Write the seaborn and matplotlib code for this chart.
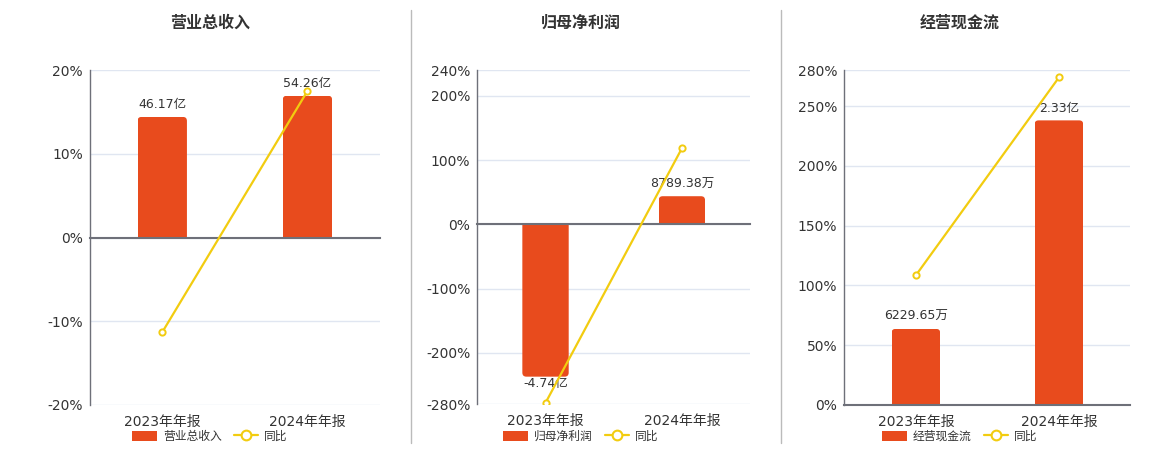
import numpy as np
import pandas as pd
import matplotlib
matplotlib.use('Agg')
import matplotlib.pyplot as plt
from matplotlib.patches import FancyBboxPatch, Patch
from matplotlib.lines import Line2D
import seaborn as sns

# ---------------- data ----------------
categories = ['2023年年报', '2024年年报']

revenue = [46.17, 54.26]            # 亿
revenue_yoy = [-11.3, 17.52]        # %
revenue_labels = ['46.17亿', '54.26亿']

profit = [-4.74, 0.878938]          # 亿
profit_yoy = [-277.8, 118.5]
profit_labels = ['-4.74亿', '8789.38万']

cashflow = [0.622965, 2.33]         # 亿
cashflow_yoy = [108.5, 274.0]
cashflow_labels = ['6229.65万', '2.33亿']

titles = ['营业总收入', '归母净利润', '经营现金流']
yoy_name = '同比'

pct_ticks_1 = [-20, -10, 0, 10, 20]
pct_ticks_2 = [-280, -200, -100, 0, 100, 200, 240]
pct_ticks_3 = [0, 50, 100, 150, 200, 250, 280]

# ---------------- style ----------------
sns.set_style('white')
plt.rcParams['font.family'] = ['DejaVu Sans', 'Noto Sans CJK SC']
plt.rcParams['axes.unicode_minus'] = False

BAR = '#E84B1D'
YEL = '#F2CC10'
AXC = '#6E7079'
GRID = '#E0E6F1'
TXT = '#333333'

W, H = 1160, 450
fig = plt.figure(figsize=(W / 100, H / 100), dpi=100)


def panel(rect, title, cx, bars, yoy, labels, ticks, k):
    axb = fig.add_axes(rect)
    axp = axb.twinx()
    df = pd.DataFrame({'cat': categories, 'val': bars, 'yoy': yoy})

    sns.barplot(data=df, x='cat', y='val', ax=axb, color=BAR, saturation=1,
                width=0.34, linewidth=0, edgecolor='none', errorbar=None)
    lo, hi = ticks[0], ticks[-1]
    axb.set_ylim(lo * k, hi * k)

    sns.pointplot(data=df, x='cat', y='yoy', ax=axp, color=YEL, markers='o',
                  linewidth=1.6, markersize=4.5, markeredgewidth=1.4,
                  errorbar=None)
    for ln in axp.lines:
        ln.set_markerfacecolor('white')
        ln.set_zorder(5)
    axp.set_ylim(lo, hi)
    axb.set_xlim(-0.5, 1.5)

    # bar labels
    cont = axb.containers[0]
    anns = axb.bar_label(cont, labels=labels, padding=4, fontsize=9, color=TXT)
    for ann, rc in zip(anns, cont):
        if rc.get_height() < 0:
            ann.xyann = (0, -0.5)

    # rounded bar tips: rounded box extended past the baseline, clipped by the bar
    xupp = 2.0 / (rect[2] * W)
    yupp = (hi - lo) * k / (rect[3] * H)
    r = 4 * xupp
    ext = 10 * yupp
    for rc in cont:
        x, y, w, h = rc.get_x(), rc.get_y(), rc.get_width(), rc.get_height()
        if h >= 0:
            y0, hh = y - ext, h + ext
        else:
            y0, hh = y + h, -h + ext
        fb = FancyBboxPatch((x, y0), w, hh,
                            boxstyle=f'round,pad=0,rounding_size={r}',
                            mutation_aspect=yupp / xupp,
                            facecolor=BAR, edgecolor='none', zorder=rc.get_zorder())
        axb.add_patch(fb)
        fb.set_clip_path(rc)
        rc.set_facecolor('none')

    # grid on bar axis aligned to percent ticks
    axb.set_yticks([t * k for t in ticks])
    axb.tick_params(axis='y', length=0, labelleft=False, labelright=False)
    axb.grid(axis='y', color=GRID, lw=1)
    axb.grid(axis='x', visible=False)
    axb.set_axisbelow(True)
    axb.set_xlabel('')
    axb.set_ylabel('')

    # x axis: boundary ticks on the zero line, labels at bottom
    axb.set_xticks([0, 1])
    axb.set_xticklabels(categories)
    axb.set_xticks([-0.5, 0.5, 1.5], minor=True)
    axb.tick_params(axis='x', which='major', length=0, labelbottom=False)
    axb.tick_params(axis='x', which='minor', length=4, width=1, color=AXC, direction='out')
    for s in ['top', 'right', 'left']:
        axb.spines[s].set_visible(False)
    axb.spines['bottom'].set_position(('data', 0))
    axb.spines['bottom'].set_color(AXC)
    axb.spines['bottom'].set_linewidth(1.5)

    axp.xaxis.set_visible(True)
    axp.tick_params(axis='x', which='major', length=0, labelbottom=True,
                    labelsize=10, labelcolor=TXT, pad=7)
    axp.tick_params(axis='x', which='minor', length=0)
    axp.set_xlabel('')

    axp.yaxis.tick_left()
    axp.yaxis.set_label_position('left')
    axp.set_yticks(ticks)
    axp.set_yticklabels([f'{t}%' for t in ticks])
    axp.tick_params(axis='y', length=0, labelsize=10, labelcolor=TXT, pad=5)
    axp.set_ylabel('')
    for s in ['top', 'right', 'bottom']:
        axp.spines[s].set_visible(False)
    axp.spines['left'].set_color(AXC)
    axp.spines['left'].set_linewidth(1)

    fig.text(cx / W, 1 - 23 / H, title, ha='center', va='center',
             fontsize=11.5, fontweight='bold', color=TXT)

    handles = [Patch(facecolor=BAR, edgecolor='none'),
               Line2D([], [], color=YEL, lw=1.6, marker='o', mfc='white',
                      mec=YEL, mew=1.5, ms=7)]
    fig.legend(handles, [title, yoy_name], loc='center',
               bbox_to_anchor=(cx / W, 1 - 436.5 / H), ncol=2, frameon=False,
               fontsize=8.5, handlelength=2.1, handleheight=1.0,
               columnspacing=1.0, handletextpad=0.5, labelcolor=TXT,
               borderaxespad=0, borderpad=0)


panel([0.0773, 0.1, 0.2503, 0.7438], titles[0], 210, revenue, revenue_yoy,
      revenue_labels, pct_ticks_1, 3.2)
panel([0.4115, 0.1016, 0.2351, 0.7422], titles[1], 581, profit, profit_yoy,
      profit_labels, pct_ticks_2, 0.02)
panel([0.7279, 0.1, 0.2466, 0.7438], titles[2], 960, cashflow, cashflow_yoy,
      cashflow_labels, pct_ticks_3, 2.74 / 280)

for xs in [410.5, 780.5]:
    fig.add_artist(Line2D([xs / W, xs / W], [1 - 10 / H, 1 - 443 / H],
                          color='#BBBBBB', lw=1))

fig.savefig('out.png', dpi=100)
